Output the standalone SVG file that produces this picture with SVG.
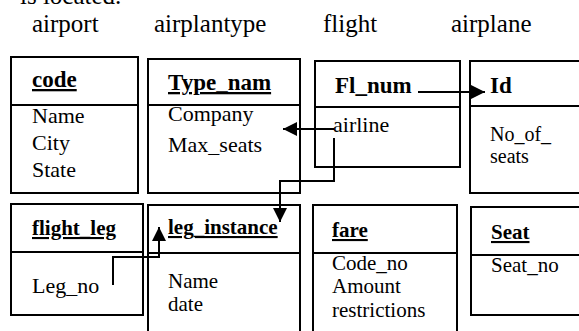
<svg xmlns="http://www.w3.org/2000/svg" width="579" height="331" viewBox="0 0 579 331">
<defs>
<style>
.box{fill:#fff;stroke:#000;stroke-width:2}
.div{stroke:#000;stroke-width:2}
.t{font-family:"Liberation Serif","Times New Roman",serif;fill:#000}
.lbl{font-size:25px}
.h1{font-size:23px;font-weight:bold}
.h2{font-size:21px;font-weight:bold}
.u{text-decoration:underline}
.b22{font-size:22px}
.b21{font-size:21px}
.b20{font-size:20px}
.c{fill:none;stroke:#000;stroke-width:2}
</style>
<marker id="ah" viewBox="0 0 14 14" refX="14" refY="7" markerWidth="14" markerHeight="14" markerUnits="userSpaceOnUse" orient="auto">
<path d="M0,0 L14,7 L0,14 Z" fill="#000"/>
</marker>
</defs>
<rect width="579" height="331" fill="#fff"/>
<text class="t lbl" x="20" y="4">is located.</text>
<text class="t lbl" x="32" y="32">airport</text>
<text class="t lbl" x="154" y="32">airplantype</text>
<text class="t lbl" x="323" y="32">flight</text>
<text class="t lbl" x="451" y="32">airplane</text>

<g id="airport">
<rect class="box" x="11" y="57" width="127" height="136"/>
<line class="div" x1="11" y1="105" x2="138" y2="105"/>
<text class="t h1 u" x="32" y="87">code</text>
<text class="t b22" x="32" y="123">Name</text>
<text class="t b22" x="32" y="150">City</text>
<text class="t b22" x="32" y="177">State</text>
</g>

<g id="airplantype">
<rect class="box" x="148" y="59" width="152" height="134"/>
<line class="div" x1="148" y1="105" x2="300" y2="105"/>
<text class="t h1 u" x="168" y="90">Type_nam</text>
<text class="t b22" x="168" y="121">Company</text>
<text class="t b22" x="168" y="152">Max_seats</text>
</g>

<g id="flight">
<rect class="box" x="315" y="61" width="145" height="106"/>
<line class="div" x1="315" y1="107" x2="460" y2="107"/>
<text class="t h1" x="335" y="93">Fl_num</text>
<text class="t b22" x="333" y="132">airline</text>
</g>

<g id="airplane">
<rect class="box" x="470" y="61" width="130" height="132"/>
<line class="div" x1="470" y1="106" x2="600" y2="106"/>
<text class="t h1" x="490" y="93">Id</text>
<text class="t b20" x="490" y="141">No_of_</text>
<text class="t b20" x="490" y="163">seats</text>
</g>

<g id="flight_leg">
<rect class="box" x="11" y="204" width="132" height="111"/>
<line class="div" x1="11" y1="252" x2="143" y2="252"/>
<text class="t h2 u" x="32" y="235">flight_leg</text>
<text class="t b22" x="32" y="293">Leg_no</text>
</g>

<g id="leg_instance">
<rect class="box" x="148" y="205" width="152" height="140"/>
<line class="div" x1="148" y1="253" x2="300" y2="253"/>
<text class="t h2 u" x="168" y="234">leg_instance</text>
<text class="t b21" x="168" y="288">Name</text>
<text class="t b21" x="168" y="311">date</text>
</g>

<g id="fare">
<rect class="box" x="313" y="205" width="144" height="140"/>
<line class="div" x1="313" y1="253" x2="457" y2="253"/>
<text class="t h2 u" x="332" y="237">fare</text>
<text class="t b21" x="332" y="270">Code_no</text>
<text class="t b21" x="332" y="293">Amount</text>
<text class="t b21" x="332" y="317">restrictions</text>
</g>

<g id="Seat">
<rect class="box" x="471" y="207" width="130" height="108"/>
<line class="div" x1="471" y1="255" x2="601" y2="255"/>
<text class="t h2 u" x="491" y="239">Seat</text>
<text class="t b21" x="491" y="272">Seat_no</text>
</g>

<g id="connectors">
<path class="c" d="M418,92 H485" marker-end="url(#ah)"/>
<path class="c" d="M334,129 H283" marker-end="url(#ah)"/>
<path class="c" d="M334,138 V181 H280 V222" marker-end="url(#ah)"/>
<path class="c" d="M113,285 V257 H159 V227" marker-end="url(#ah)"/>
</g>
</svg>
